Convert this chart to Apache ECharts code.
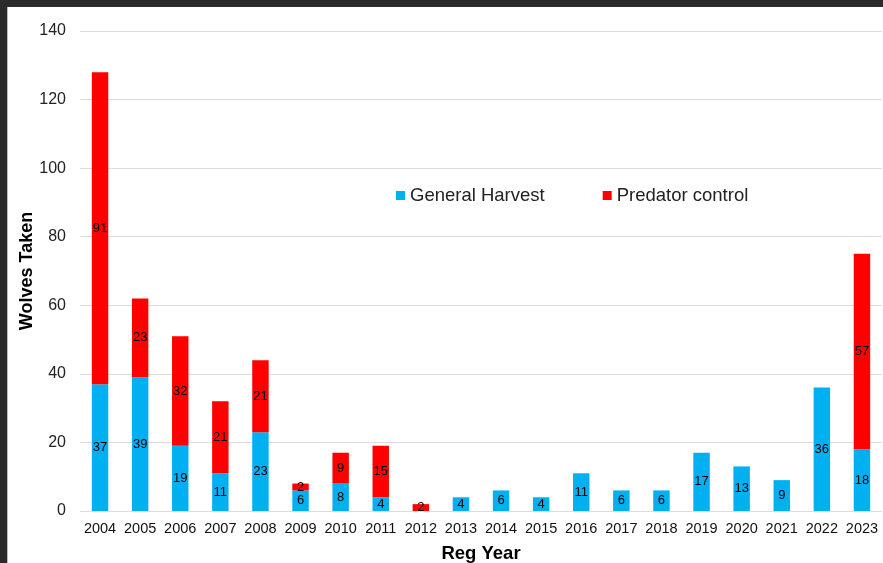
<!DOCTYPE html>
<html><head><meta charset="utf-8">
<script src="https://cdn.jsdelivr.net/npm/echarts@6/dist/echarts.min.js"></script>
<style>
html,body{margin:0;padding:0;background:#2b2b2b;width:883px;height:563px;overflow:hidden;}
#c{position:absolute;left:7px;top:7px;width:876px;height:556px;background:#fff;border-left:1px solid #bbb;box-sizing:border-box;}
</style></head>
<body><div id="c"></div>
<script>
const years = ['2004','2005','2006','2007','2008','2009','2010','2011','2012','2013','2014','2015','2016','2017','2018','2019','2020','2021','2022','2023'];
const generalHarvest = [37,39,19,11,23,6,8,4,0,4,6,4,11,6,6,17,13,9,36,18];
const predatorControl = [91,23,32,21,21,2,9,15,2,0,0,0,0,0,0,0,0,0,0,57];
const yTicks = [0,20,40,60,80,100,120,140];

const FONT = '"Liberation Sans", Arial, sans-serif';
const chart = echarts.init(document.getElementById('c'));
const lbl = {show:true, position:'inside', color:'#000', fontSize:13, fontFamily:FONT,
  formatter: p => p.value ? String(p.value) : ''};
chart.setOption({
  animation:false,
  textStyle:{fontFamily:FONT},
  grid:{left:72, right:1, top:24, bottom:52, containLabel:false, outerBoundsMode:'none'},
  legend:{
    left:388, top:179, padding:0, itemWidth:9, itemHeight:9, itemGap:58, icon:'rect',
    textStyle:{fontSize:18.5, color:'#222', fontFamily:FONT},
    data:['General Harvest','Predator control']
  },
  xAxis:{
    type:'category', data:years,
    name:'Reg Year', nameLocation:'middle', nameGap:33, nameMoveOverlap:false,
    nameTextStyle:{fontSize:18.5, fontWeight:'bold', color:'#000', fontFamily:FONT},
    axisLine:{show:false}, axisTick:{show:false},
    axisLabel:{fontSize:14.5, color:'#111', margin:10, fontFamily:FONT, interval:0}
  },
  yAxis:{
    type:'value', min:yTicks[0], max:yTicks[yTicks.length-1], interval:20,
    name:'Wolves Taken', nameLocation:'middle', nameGap:44, nameMoveOverlap:false,
    nameTextStyle:{fontSize:18, fontWeight:'bold', color:'#000', fontFamily:FONT},
    axisLine:{show:false}, axisTick:{show:false},
    axisLabel:{fontSize:16, color:'#222', margin:14, fontFamily:FONT},
    splitLine:{lineStyle:{color:'#dcdcdc', width:1}}
  },
  series:[
    {name:'General Harvest', type:'bar', stack:'t', data:generalHarvest, barWidth:'41%',
     itemStyle:{color:'#00B0F0'}, label:lbl},
    {name:'Predator control', type:'bar', stack:'t', data:predatorControl, barWidth:'41%',
     itemStyle:{color:'#FF0000'}, label:lbl}
  ]
});
</script></body></html>
